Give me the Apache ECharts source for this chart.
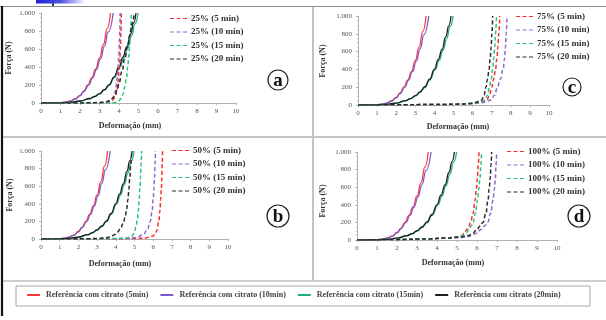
<!DOCTYPE html>
<html><head><meta charset="utf-8">
<script src="https://cdn.jsdelivr.net/npm/echarts@6/dist/echarts.min.js"></script>
<style>html,body{margin:0;padding:0;background:#fff}#c{width:606px;height:320px}</style>
</head><body><div id="c"></div>
<script>
// ---- data (deformation mm, force N) ----
const xTicks = [0,1,2,3,4,5,6,7,8,9,10];
const yTicks = [0,200,400,600,800,1000];
const refNames = ['Referência com citrato (5min)','Referência com citrato (10min)','Referência com citrato (15min)','Referência com citrato (20min)'];
const ref5  = [[0,0],[0.5,0],[1,4],[1.25,10],[1.5,22],[1.75,45],[2,85],[2.2,135],[2.4,200],[2.6,280],[2.8,375],[3.0,500],[3.2,650],[3.4,830],[3.56,1000]];
const ref10 = [[0,0],[0.5,0],[1,3],[1.25,9],[1.5,20],[1.75,42],[2,80],[2.2,128],[2.45,200],[2.65,280],[2.85,375],[3.05,490],[3.25,630],[3.45,790],[3.7,1000]];
const ref15 = [[0,0],[1,1],[1.5,6],[2,20],[2.5,46],[2.75,70],[3,100],[3.25,142],[3.5,195],[3.75,280],[4.05,400],[4.25,500],[4.45,615],[4.65,750],[4.82,880],[4.98,1000]];
const ref20 = [[0,0],[1,1],[1.5,7],[2,22],[2.5,50],[2.75,72],[3,105],[3.25,148],[3.5,205],[3.75,290],[4.0,400],[4.2,510],[4.4,625],[4.6,770],[4.75,890],[4.87,1000]];

const namesA = ['25% (5 min)','25% (10 min)','25% (15 min)','25% (20 min)'];
const a5  = [[0,0],[2,0],[3,2],[3.5,12],[3.65,28],[3.75,50],[3.83,90],[3.9,150],[3.96,240],[4.0,350],[4.04,460],[4.07,600],[4.1,780],[4.12,1000]];
const a10 = [[0,0],[2,0],[3,3],[3.45,15],[3.6,35],[3.7,60],[3.78,105],[3.85,180],[3.9,270],[3.95,400],[3.99,520],[4.02,650],[4.04,800],[4.06,1000]];
const a15 = [[0,0],[3.5,0],[3.75,4],[3.85,8],[4.0,25],[4.1,50],[4.2,95],[4.3,180],[4.38,280],[4.45,400],[4.5,510],[4.55,650],[4.59,800],[4.63,1000]];
const a20 = [[0,0],[2,1],[2.5,2],[3,5],[3.3,12],[3.5,25],[3.65,50],[3.8,90],[3.9,145],[4.0,220],[4.15,350],[4.3,500],[4.45,640],[4.55,750],[4.67,880],[4.78,1000]];

const namesB = ['50% (5 min)','50% (10 min)','50% (15 min)','50% (20 min)'];
const b5  = [[0,0],[3,0],[5,5],[5.6,12],[5.8,20],[5.95,32],[6.1,50],[6.2,100],[6.3,200],[6.36,320],[6.4,450],[6.44,580],[6.46,700],[6.48,850],[6.5,1000]];
const b10 = [[0,0],[3,0],[4.5,5],[5.0,14],[5.2,25],[5.4,45],[5.5,60],[5.7,115],[5.85,200],[5.94,320],[6.0,450],[6.04,580],[6.07,700],[6.1,850],[6.12,1000]];
const b15 = [[0,0],[3,2],[4.0,5],[4.5,8],[4.7,16],[4.85,30],[4.93,50],[5.0,80],[5.08,135],[5.15,220],[5.21,330],[5.25,450],[5.29,580],[5.32,700],[5.35,850],[5.38,1000]];
const b20 = [[0,0],[2.5,3],[3.0,7],[3.5,15],[3.75,28],[3.95,50],[4.1,80],[4.25,120],[4.4,180],[4.5,250],[4.58,340],[4.65,450],[4.7,570],[4.75,700],[4.8,850],[4.85,1000]];

const namesC = ['75% (5 min)','75% (10 min)','75% (15 min)','75% (20 min)'];
const c5  = [[0,0],[2,2],[4,5],[5.5,10],[6.0,17],[6.3,25],[6.55,38],[6.75,55],[6.88,110],[7.0,200],[7.1,290],[7.2,400],[7.27,520],[7.32,650],[7.37,800],[7.42,1000]];
const c10 = [[0,0],[2,2],[4,5],[5.5,10],[6.0,15],[6.4,22],[6.7,35],[6.95,55],[7.15,110],[7.3,200],[7.45,290],[7.6,400],[7.67,520],[7.72,650],[7.76,800],[7.8,1000]];
const c15 = [[0,0],[2,2],[4,5],[5.5,10],[5.9,17],[6.2,25],[6.45,38],[6.65,55],[6.78,110],[6.88,200],[6.97,290],[7.05,400],[7.11,520],[7.16,650],[7.2,800],[7.25,1000]];
const c20 = [[0,0],[2,2],[4,5],[5.5,10],[5.85,17],[6.1,25],[6.3,38],[6.47,55],[6.6,110],[6.7,200],[6.78,290],[6.86,400],[6.92,520],[6.97,650],[7.01,800],[7.05,1000]];

const namesD = ['100% (5 min)','100% (10 min)','100% (15 min)','100% (20 min)'];
const d5  = [[0,0],[2,5],[3.5,12],[4.5,25],[5.0,35],[5.23,50],[5.38,80],[5.5,120],[5.6,160],[5.68,200],[5.8,300],[5.9,450],[5.97,580],[6.02,700],[6.06,850],[6.1,1000]];
const d10 = [[0,0],[2,5],[3.5,12],[4.5,20],[5.3,30],[5.55,40],[5.75,50],[6.0,80],[6.2,120],[6.38,160],[6.53,200],[6.68,300],[6.8,450],[6.87,580],[6.92,700],[6.95,850],[6.98,1000]];
const d15 = [[0,0],[2,5],[3.5,12],[4.5,25],[5.0,35],[5.3,50],[5.45,80],[5.6,120],[5.71,160],[5.8,200],[5.92,300],[6.02,450],[6.09,580],[6.15,700],[6.19,850],[6.23,1000]];
const d20 = [[0,0],[2,5],[3.5,12],[4.5,22],[5.2,35],[5.4,42],[5.58,50],[5.8,80],[6.0,120],[6.16,160],[6.3,200],[6.44,300],[6.55,450],[6.61,580],[6.66,700],[6.7,850],[6.73,1000]];

// ---- styling ----
const SERIF = '"Liberation Serif","DejaVu Serif",serif';
const refColors = ['#ff3b3b','#7b5cc8','#22b27a','#1e1e1e'];
const dashColors = ['#ff2a2a','#9266cf','#2cc184','#2a2a2a'];

const panels = [
  {grid:{left:41,top:13,width:195,height:90}, names:namesA, data:[a5,a10,a15,a20], leg:{left:170,top:14}, letter:'a', lc:[278,80], lr:10, title:{fx:9,fy:58,dx:130,dy:126}},
  {grid:{left:41,top:151,width:187,height:88}, names:namesB, data:[b5,b10,b15,b20], leg:{left:172,top:146}, letter:'b', lc:[278,216], lr:11, title:{fx:10,fy:195,dx:120,dy:264}},
  {grid:{left:358,top:16,width:191,height:89}, names:namesC, data:[c5,c10,c15,c20], leg:{left:516,top:12}, letter:'c', lc:[572,87], lr:9, title:{fx:323,fy:61,dx:458,dy:127}},
  {grid:{left:357,top:152,width:200,height:88}, names:namesD, data:[d5,d10,d15,d20], leg:{left:507,top:147}, letter:'d', lc:[579,216], lr:11, title:{fx:323,fy:201,dx:453,dy:263}}
];
const refs = [ref5,ref10,ref15,ref20];

const grids=[], xAxes=[], yAxes=[], series=[], legends=[], graphics=[];
panels.forEach((p,i)=>{
  grids.push(p.grid);
  xAxes.push({type:'value', gridIndex:i, min:xTicks[0], max:xTicks[xTicks.length-1], interval:1,
    axisLine:{show:true,onZero:false,lineStyle:{color:'#b0b0b0',width:1}},
    axisTick:{show:true,length:2,lineStyle:{color:'#b0b0b0'}},
    splitLine:{show:false},
    axisLabel:{fontFamily:SERIF,fontSize:7,color:'#555',margin:5}});
  yAxes.push({type:'value', gridIndex:i, min:yTicks[0], max:yTicks[yTicks.length-1], interval:200,
    axisLine:{show:true,lineStyle:{color:'#b0b0b0',width:1}},
    axisTick:{show:true,length:2,lineStyle:{color:'#b0b0b0'}},
    minorTick:{show:true,splitNumber:4,length:1,lineStyle:{color:'#c8c8c8'}},
    splitLine:{show:false},
    axisLabel:{fontFamily:SERIF,fontSize:7,color:'#555',margin:6,formatter:v=>v===1000?'1.000':String(v)}});
  refs.forEach((d,k)=>{
    series.push({type:'line',name:refNames[k],xAxisIndex:i,yAxisIndex:i,data:d,smooth:0.5,smoothMonotone:'x',
      symbol:'none',lineStyle:{color:refColors[k],width:1.3},itemStyle:{color:refColors[k]},z:3});
  });
  p.data.forEach((d,k)=>{
    series.push({type:'line',name:p.names[k],xAxisIndex:i,yAxisIndex:i,data:d,smooth:0.5,smoothMonotone:'x',
      symbol:'none',lineStyle:{color:dashColors[k],width:1.5,type:[4,2.5]},itemStyle:{color:dashColors[k]},z:4});
  });
  legends.push({data:p.names, orient:'vertical', left:p.leg.left, top:p.leg.top, itemWidth:17, itemHeight:6, itemGap:4.5,
    padding:0, icon:'path://M0,0 L4,0 L4,1 L0,1 Z M6.5,0 L10.5,0 L10.5,1 L6.5,1 Z M13,0 L17,0 L17,1 L13,1 Z',
    textStyle:{fontFamily:SERIF,fontSize:9,fontWeight:'bold',color:'#333',padding:[0,0,0,-1]}, selectedMode:false});
  graphics.push({type:'circle',shape:{cx:p.lc[0],cy:p.lc[1],r:p.lr},style:{fill:'#fff',stroke:'#222',lineWidth:1.2}});
  graphics.push({type:'text',x:p.lc[0],y:p.lc[1]+1,style:{text:p.letter,font:'bold 19px '+SERIF,fill:'#111',align:'center',verticalAlign:'middle'}});
  graphics.push({type:'text',x:p.title.fx,y:p.title.fy,rotation:Math.PI/2,style:{text:'Força (N)',font:'bold 8px '+SERIF,fill:'#333',align:'center',verticalAlign:'middle'}});
  graphics.push({type:'text',x:p.title.dx,y:p.title.dy,style:{text:'Deformação (mm)',font:'bold 8px '+SERIF,fill:'#333',align:'center',verticalAlign:'middle'}});
});

// bottom legend
legends.push({data:refNames, orient:'horizontal', left:27, top:291, itemWidth:13, itemHeight:2, itemGap:12, padding:0,
  icon:'rect', textStyle:{fontFamily:SERIF,fontSize:8,fontWeight:'bold',color:'#444',padding:[0,0,0,1]}, selectedMode:false});

// frame / dividers
graphics.push(
  {type:'rect',shape:{x:36,y:0,width:48,height:3.5},style:{fill:new echarts.graphic.LinearGradient(0,0,1,0,[{offset:0,color:'#1f24d8'},{offset:0.5,color:'#4a4fe0'},{offset:1,color:'#f2f2ff'}])},z:1},
  {type:'line',shape:{x1:53,y1:0,x2:53,y2:6},style:{stroke:'#000',lineWidth:1.5}},
  {type:'line',shape:{x1:0,y1:6.5,x2:606,y2:6.5},style:{stroke:'#8c8c8c',lineWidth:1.2}},
  {type:'line',shape:{x1:2,y1:6,x2:2,y2:316},style:{stroke:'#111',lineWidth:2.2}},
  {type:'line',shape:{x1:313,y1:7,x2:313,y2:281},style:{stroke:'#9a9a9a',lineWidth:1.2}},
  {type:'line',shape:{x1:3,y1:137,x2:606,y2:137},style:{stroke:'#c4c4c4',lineWidth:1.8}},
  {type:'line',shape:{x1:3,y1:281,x2:606,y2:281},style:{stroke:'#bcbcbc',lineWidth:1.5}},
  {type:'rect',shape:{x:16,y:286,width:574,height:20},style:{fill:'none',stroke:'#a8a8a8',lineWidth:1}}
);

const chart = echarts.init(document.getElementById('c'),null,{renderer:'canvas'});
chart.setOption({
  animation:false, backgroundColor:'#fff',
  grid:grids, xAxis:xAxes, yAxis:yAxes, series:series, legend:legends, graphic:graphics
});
</script></body></html>
